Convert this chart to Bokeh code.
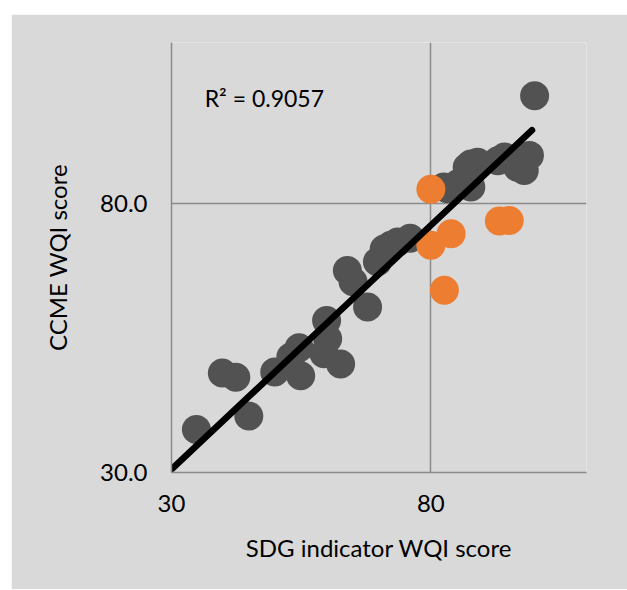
from bokeh.plotting import figure
from bokeh.models import FixedTicker, Label, Spacer, PrintfTickFormatter
from bokeh.layouts import column, row
from bokeh.embed import file_html
from bokeh.resources import INLINE

# Data
grey_x = [34.8, 39.8, 42.4, 44.9, 49.9, 54.9, 53.0, 54.6, 59.9, 60.1, 59.4, 62.6,
          63.9, 65.0, 67.8, 69.7, 71.0, 72.3, 73.6, 76.0, 82.5, 83.2, 85.2, 87.0,
          87.7, 87.0, 87.7, 89.0, 92.9, 94.2, 96.7, 98.0, 98.3, 99.0, 100.0]
grey_y = [38.0, 48.5, 47.7, 40.5, 48.7, 48.0, 51.5, 53.2, 58.3, 54.9, 52.1, 50.2,
          67.6, 65.5, 60.8, 69.2, 71.6, 72.3, 72.9, 73.6, 83.1, 82.8, 83.7, 84.3,
          83.1, 86.8, 87.4, 87.7, 88.0, 88.7, 86.8, 86.2, 88.4, 89.0, 100.1]
orange_x = [80.0, 83.9, 80.0, 82.6, 93.2, 95.1]
orange_y = [82.7, 74.4, 72.3, 63.9, 76.8, 76.9]
trend_x = [30.0, 99.5]
trend_y = [30.6, 93.7]
x_ticks = [30, 80]
y_ticks = [30, 80]
r2_text = "R² = 0.9057"

BG = "#d9d9d9"
GRID = "#8c8c8c"
FONT = "Lato"

p = figure(width=616, height=575, x_range=(30, 110), y_range=(30, 110),
           output_backend="svg", toolbar_location=None,
           background_fill_color=BG, border_fill_color=BG,
           min_border_left=160, min_border_right=41,
           min_border_top=28, min_border_bottom=117)
p.outline_line_color = None

p.scatter(grey_x, grey_y, size=29, color="#525252", line_color=None)
p.scatter(orange_x, orange_y, size=29, color="#ed7d31", line_color=None)
p.line(trend_x, trend_y, line_width=6.5, color="black", line_cap="round")

for ax in (p.xaxis[0], p.yaxis[0]):
    ax.axis_line_color = GRID
    ax.axis_line_width = 1.5
    ax.major_tick_line_color = None
    ax.minor_tick_line_color = None
    ax.major_tick_out = 0
    ax.major_tick_in = 0
    ax.major_label_text_font = FONT
    ax.major_label_text_font_size = "24px"
    ax.major_label_text_color = "black"
    ax.axis_label_text_font = FONT
    ax.axis_label_text_font_size = "24px"
    ax.axis_label_text_font_style = "normal"
    ax.axis_label_text_color = "black"

p.xaxis.ticker = FixedTicker(ticks=x_ticks)
p.yaxis.ticker = FixedTicker(ticks=y_ticks)
p.yaxis.formatter = PrintfTickFormatter(format="%.1f")
p.xaxis.axis_label = "SDG indicator WQI score"
p.yaxis.axis_label = "CCME WQI score"
p.xaxis.major_label_standoff = 22
p.yaxis.major_label_standoff = 24
p.xaxis.axis_label_standoff = 18
p.yaxis.axis_label_standoff = 25

p.xgrid.ticker = FixedTicker(ticks=x_ticks)
p.ygrid.ticker = FixedTicker(ticks=y_ticks)
p.grid.grid_line_color = GRID
p.grid.grid_line_width = 1.5

p.add_layout(Label(x=36.4, y=99.7, text=r2_text, text_font=FONT,
                   text_font_size="23px", text_color="black",
                   text_baseline="middle", text_align="left"))

layout = column(Spacer(height=14), row(Spacer(width=11), p))
open("out.html", "w").write(file_html(layout, INLINE))
